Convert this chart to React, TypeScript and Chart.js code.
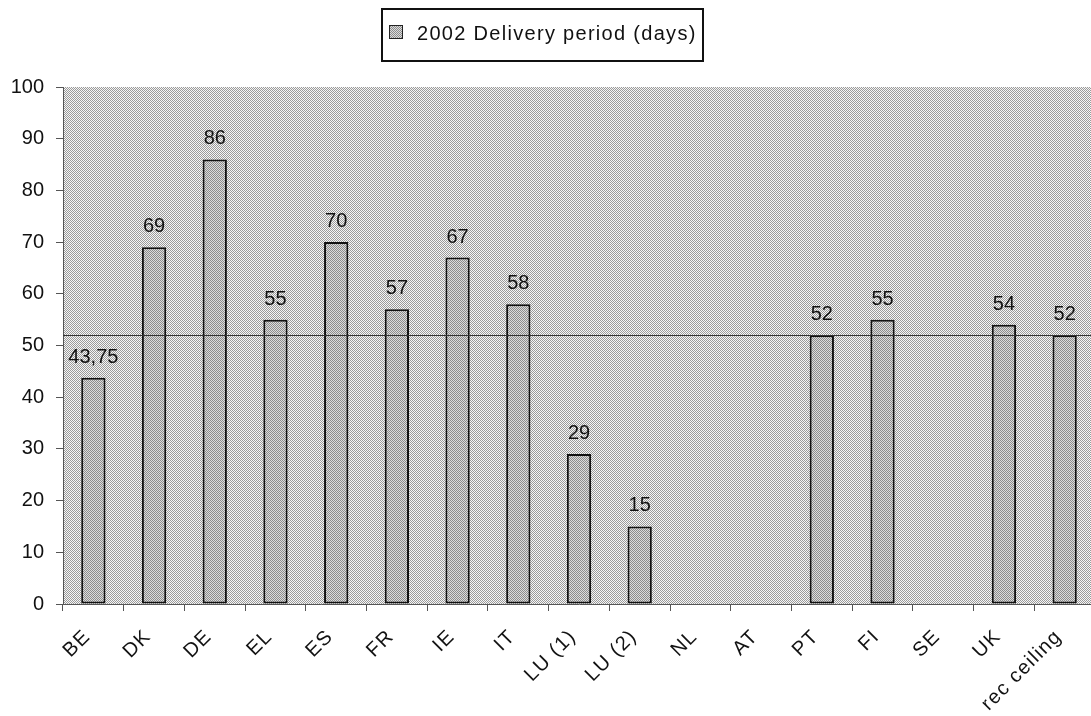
import React, { useEffect, useRef } from "react";
import { Chart, registerables } from "chart.js";

Chart.register(...registerables);

const categories = [
  "BE", "DK", "DE", "EL", "ES", "FR", "IE", "IT", "LU (1)", "LU (2)",
  "NL", "AT", "PT", "FI", "SE", "UK", "rec ceiling",
];
const deliveryDays: (number | null)[] = [
  43.75, 69, 86, 55, 70, 57, 67, 58, 29, 15, null, null, 52, 55, null, 54, 52,
];
const seriesLabel = "2002 Delivery period (days)";
const ceilingValue = 52;
const yMin = 0;
const yMax = 100;
const yStep = 10;

const FONT = "'Liberation Sans', Arial, Helvetica, sans-serif";

function makePattern(dark: string, light: string): CanvasPattern | string {
  const c = document.createElement("canvas");
  c.width = 2;
  c.height = 2;
  const g = c.getContext("2d");
  if (!g) return light;
  g.fillStyle = light;
  g.fillRect(0, 0, 2, 2);
  g.fillStyle = dark;
  g.fillRect(0, 0, 1, 1);
  g.fillRect(1, 1, 1, 1);
  const ctx = document.createElement("canvas").getContext("2d");
  return (ctx && ctx.createPattern(c, "repeat")) || light;
}

function formatValue(v: number): string {
  return String(v).replace(".", ",");
}

export default function App() {
  const ref = useRef<HTMLCanvasElement | null>(null);

  useEffect(() => {
    document.body.style.margin = "0";
    const canvas = ref.current;
    if (!canvas) return;

    const bgPattern = makePattern("#9a9a9a", "#f6f6f6");
    const barPattern = makePattern("#8c8c8c", "#dcdcdc");

    const plotBg = {
      id: "plotBg",
      beforeDraw(chart: any) {
        const { ctx, chartArea } = chart;
        ctx.save();
        ctx.fillStyle = bgPattern;
        ctx.fillRect(chartArea.left, chartArea.top, chartArea.right - chartArea.left, chartArea.bottom - chartArea.top);
        ctx.restore();
      },
    };

    const spacedXLabels = {
      id: "spacedXLabels",
      afterLayout(chart: any) {
        const sx = chart.scales.x;
        if (!sx || sx.__spaced) return;
        const orig = sx.drawLabels;
        sx.drawLabels = function (area: any) {
          const c = this.ctx;
          c.save();
          try { c.letterSpacing = "1.3px"; } catch (e) {}
          orig.call(this, area);
          c.restore();
        };
        sx.__spaced = true;
      },
    };

    const refLine = {
      id: "refLine",
      afterDatasetsDraw(chart: any) {
        const { ctx, chartArea } = chart;
        const y = Math.round(chart.scales.y.getPixelForValue(ceilingValue)) + 0.5;
        ctx.save();
        ctx.strokeStyle = "#333";
        ctx.lineWidth = 1;
        ctx.beginPath();
        ctx.moveTo(chartArea.left, y);
        ctx.lineTo(chartArea.right, y);
        ctx.stroke();
        ctx.restore();
      },
    };

    const valueLabels = {
      id: "valueLabels",
      afterDatasetsDraw(chart: any) {
        const { ctx } = chart;
        const meta = chart.getDatasetMeta(0);
        const data = chart.data.datasets[0].data;
        ctx.save();
        ctx.font = `20px ${FONT}`;
        ctx.fillStyle = "#111";
        ctx.textAlign = "center";
        ctx.textBaseline = "alphabetic";
        meta.data.forEach((el: any, i: number) => {
          const v = data[i];
          if (v === null || v === undefined) return;
          ctx.fillText(formatValue(v), el.x, el.y - 15);
        });
        ctx.restore();
      },
    };

    const boxedLegend = {
      id: "boxedLegend",
      afterDraw(chart: any) {
        const { ctx } = chart;
        const boxLeft = 382;
        const boxTop = 9;
        const boxW = 321;
        const boxH = 52;
        ctx.save();
        ctx.fillStyle = "#fff";
        ctx.fillRect(boxLeft, boxTop, boxW, boxH);
        ctx.strokeStyle = "#111";
        ctx.lineWidth = 2;
        ctx.strokeRect(boxLeft, boxTop, boxW, boxH);
        ctx.fillStyle = barPattern;
        ctx.fillRect(389, 25, 14, 14);
        ctx.strokeStyle = "#222";
        ctx.lineWidth = 1;
        ctx.strokeRect(389.5, 25.5, 13, 13);
        ctx.fillStyle = "#111";
        ctx.font = `20px ${FONT}`;
        ctx.textAlign = "left";
        ctx.textBaseline = "alphabetic";
        try { (ctx as any).letterSpacing = "1.3px"; } catch (e) {}
        ctx.fillText(seriesLabel, 417, 39.5);
        ctx.restore();
      },
    };

    const chart = new Chart(canvas, {
      type: "bar",
      data: {
        labels: categories,
        datasets: [
          {
            label: seriesLabel,
            data: deliveryDays,
            backgroundColor: barPattern as any,
            borderColor: "#111",
            borderWidth: 2,
            borderSkipped: false,
            barPercentage: 0.4,
            categoryPercentage: 1,
          },
        ],
      },
      options: {
        animation: false,
        responsive: false,
        maintainAspectRatio: false,
        devicePixelRatio: 1,
        layout: { padding: { left: 0, right: 15, top: 87, bottom: 0 } },
        plugins: {
          legend: { display: false },
          tooltip: { enabled: false },
        },
        scales: {
          x: {
            offset: true,
            grid: {
              display: true,
              offset: true,
              drawOnChartArea: false,
              drawTicks: true,
              tickLength: 7,
              color: "#555",
            },
            border: { display: true, color: "#555", width: 1 },
            ticks: {
              color: "#111",
              font: { size: 20, family: FONT },
              minRotation: 45,
              maxRotation: 45,
              autoSkip: false,
              padding: 14,
              labelOffset: -6,
            },
            afterFit(scale: any) {
              scale.height = 112;
            },
          },
          y: {
            min: yMin,
            max: yMax,
            ticks: {
              stepSize: yStep,
              color: "#111",
              font: { size: 20, family: FONT },
              padding: 12,
            },
            grid: {
              display: true,
              drawOnChartArea: false,
              drawTicks: true,
              tickLength: 7,
              color: "#555",
            },
            border: { display: true, color: "#555", width: 1 },
            afterFit(scale: any) {
              scale.width = 63;
            },
          },
        },
      },
      plugins: [plotBg, spacedXLabels, refLine, valueLabels, boxedLegend],
    });

    return () => chart.destroy();
  }, []);

  return (
    <div style={{ width: 1091, height: 716, overflow: "hidden", background: "#fff" }}>
      <canvas ref={ref} width={1110} height={716} style={{ display: "block", width: 1110, height: 716 }} />
    </div>
  );
}
